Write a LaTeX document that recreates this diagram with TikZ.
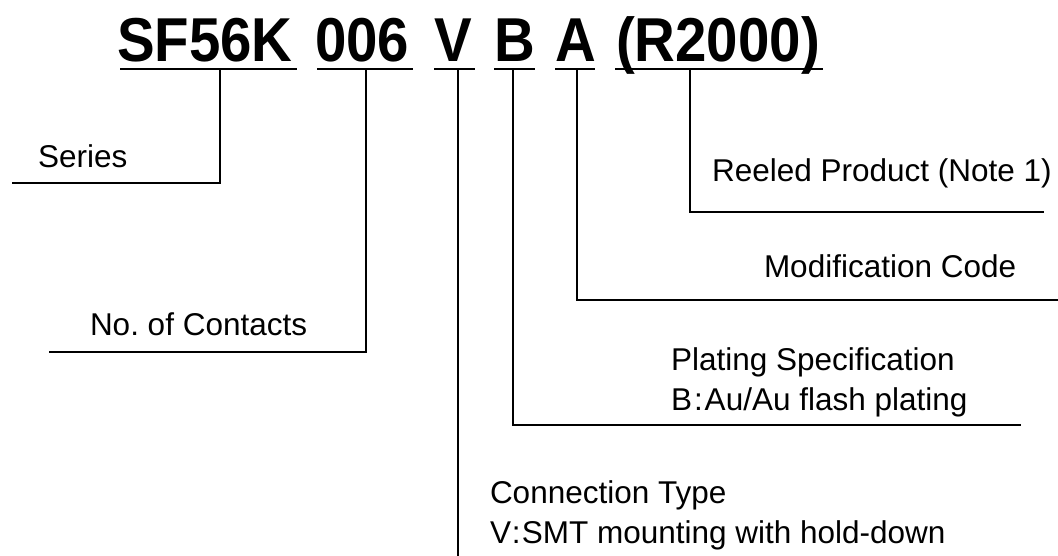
\documentclass[tikz,border=0pt]{standalone}
\usepackage{fontspec}
\usepackage{graphicx}
\setmainfont{Liberation Sans}
\frenchspacing
\begin{document}
\begin{tikzpicture}[x=1pt,y=-1pt,
  ttl/.style={anchor=base west,inner sep=0pt,outer sep=0pt,font=\fontsize{62}{70}\selectfont\bfseries},
  lbl/.style={anchor=base west,inner sep=0pt,outer sep=0pt,font=\fontsize{31.5}{40}\selectfont},
  ln/.style={line width=2.8pt,line join=miter}]
\useasboundingbox (0,0) rectangle (1058,556);
% title parts
\node[ttl] (t1) at (117,62) {\scalebox{0.91}[1]{SF56K}};
\node[ttl] (t2) at (315,62) {\scalebox{0.91}[1]{006}};
\node[ttl] (t3) at (434,62) {\scalebox{0.91}[1]{V}};
\node[ttl] (t4) at (494,62) {\scalebox{0.91}[1]{B}};
\node[ttl] (t5) at (555,62) {\scalebox{0.91}[1]{A}};
\node[ttl] (t6) at (616,62) {\scalebox{0.91}[1]{(R2000)}};
% underlines
\coordinate (u1a) at (120,69); \coordinate (u1b) at (297,69);
\coordinate (u2a) at (317,69); \coordinate (u2b) at (413,69);
\coordinate (u3a) at (434,69); \coordinate (u3b) at (475,69);
\coordinate (u4a) at (494,69); \coordinate (u4b) at (535,69);
\coordinate (u5a) at (555,69); \coordinate (u5b) at (595,69);
\coordinate (u6a) at (615,69); \coordinate (u6b) at (823,69);
\foreach \i in {1,...,6} {\draw[ln] (u\i a) -- (u\i b);}
% taps
\coordinate (p1) at (220,69); \coordinate (e1) at (12,183);
\coordinate (p2) at (366,69); \coordinate (e2) at (49,352);
\coordinate (p3) at (458,69); \coordinate (e3) at (458,556);
\coordinate (p4) at (513,69); \coordinate (e4) at (1021,425);
\coordinate (p5) at (577,69); \coordinate (e5) at (1058,300);
\coordinate (p6) at (690,69); \coordinate (e6) at (1044,212);
\draw[ln] (p1) |- (e1);
\draw[ln] (p2) |- (e2);
\draw[ln] (p3) -- (e3);
\draw[ln] (p4) |- (e4);
\draw[ln] (p5) |- (e5);
\draw[ln] (p6) |- (e6);
% labels
\node[lbl] (l1) at (38,168) {Series};
\node[lbl] (l2) at (90,335) {No. of Contacts};
\node[lbl] (l6) at (712,182) {Reeled Product (Note 1)};
\node[lbl] (l5) at (764,278) {Modification Code};
\node[lbl] (l4a) at (671,370) {Plating Specification};
\node[lbl] (l4b) at (671,410) {B\kern2pt:\kern2pt Au/Au flash plating};
\node[lbl] (l3a) at (490,503) {Connection Type};
\node[lbl] (l3b) at (490,543) {V\kern1pt:\kern1pt SMT mounting with hold-down};
\end{tikzpicture}
\end{document}
